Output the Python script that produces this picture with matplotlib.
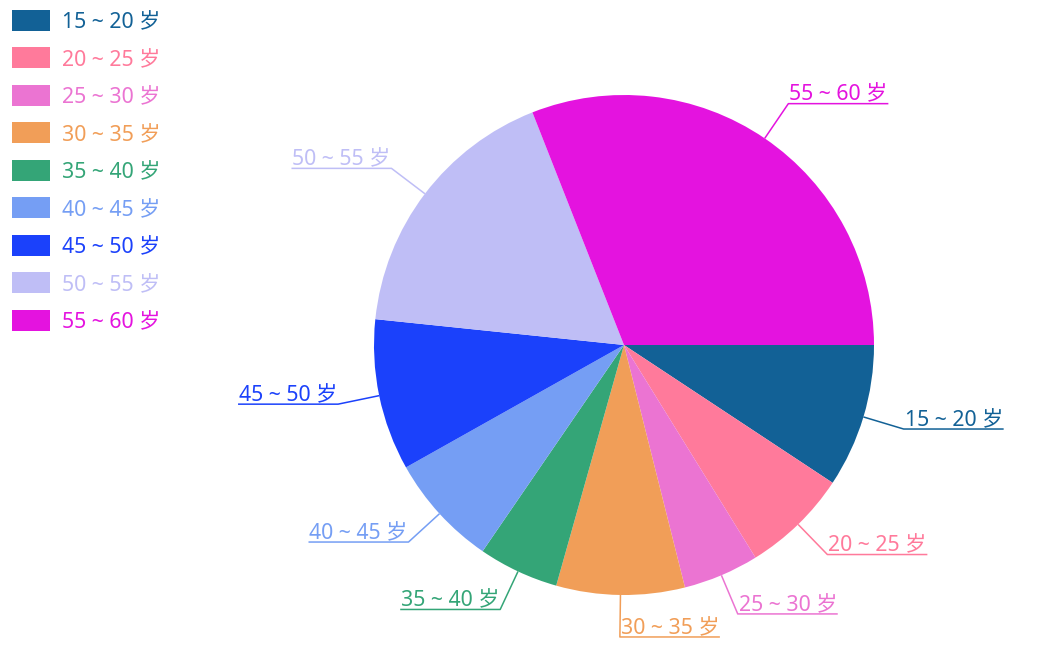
import numpy as np
import matplotlib
matplotlib.use("Agg")
import matplotlib.pyplot as plt
from matplotlib.patches import Rectangle

plt.rcParams['font.family'] = ['Noto Sans', 'Noto Sans CJK SC', 'DejaVu Sans']

categories = ["15 ~ 20 岁", "20 ~ 25 岁", "25 ~ 30 岁", "30 ~ 35 岁", "35 ~ 40 岁",
              "40 ~ 45 岁", "45 ~ 50 岁", "50 ~ 55 岁", "55 ~ 60 岁"]
values = [9.3, 6.9, 4.9, 8.3, 5.2, 7.3, 9.8, 17.4, 31.0]
colors = ["#126196", "#ff7a9b", "#eb74d2", "#f19e58", "#34a577",
          "#759ef4", "#1b41fb", "#bfbef6", "#e413df"]

W, H = 1044, 667
fig = plt.figure(figsize=(W / 100, H / 100), dpi=100)
ax = fig.add_axes([0, 0, 1, 1])

cx, cy, R = 624, H - 345, 250
wedges, _ = ax.pie(values, colors=colors, startangle=0, counterclock=False,
                   radius=R, center=(cx, cy), frame=True,
                   wedgeprops=dict(linewidth=0, antialiased=True))
ax.set_xlim(0, W)
ax.set_ylim(0, H)
ax.set_aspect('equal')
ax.axis('off')

fs = 15.3
leader = 42
seg = 100
for w, lab, col in zip(wedges, categories, colors):
    mid = np.deg2rad((w.theta1 + w.theta2) / 2)
    dx, dy = np.cos(mid), np.sin(mid)
    x0, y0 = cx + R * dx, cy + R * dy
    x1, y1 = cx + (R + leader) * dx, cy + (R + leader) * dy
    if dx >= -0.05:
        x2 = x1 + seg
        tx, ha = x1 + 1, 'left'
    else:
        x2 = x1 - seg
        tx, ha = x1 - 1, 'right'
    ax.plot([x0, x1, x2], [y0, y1, y1], color=col, lw=1.1, solid_capstyle='butt')
    ax.text(tx, y1 - 2, lab, color=col, fontsize=fs, ha=ha, va='bottom')

# legend
for i, (lab, col) in enumerate(zip(categories, colors)):
    yc = H - (20 + i * 37.5)
    ax.add_patch(Rectangle((12, yc - 10.5), 37.5, 21, facecolor=col, edgecolor='none'))
    ax.text(62, yc - 3, lab, color=col, fontsize=fs, ha='left', va='center')

fig.savefig("out.png", dpi=100)
